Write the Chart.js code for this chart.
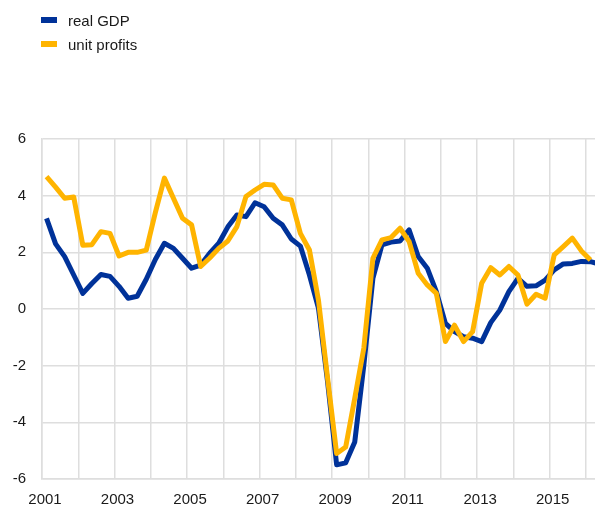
<!DOCTYPE html>
<html>
<head>
<meta charset="utf-8">
<script src="https://cdn.jsdelivr.net/npm/chart.js@4/dist/chart.umd.min.js"></script>
<style>
  html, body { margin: 0; padding: 0; background: #fff; }
  #wrap { position: relative; width: 595px; height: 506px; }
  #legend { position: absolute; left: 41px; top: 8px; font: 15px "Liberation Sans", Arial, sans-serif; color: #1a1a1a; }
  #legend div { display: flex; align-items: center; height: 24px; }
  #legend span.box { display: inline-block; width: 16px; height: 6px; margin-right: 11px; }
</style>
</head>
<body>
<div id="wrap">
  <canvas id="myChart" width="595" height="506"></canvas>
  <div id="legend"></div>
</div>
<script>
// quarterly observations, 2001Q1 onwards
const quarters = [
    '2001Q1','2001Q2','2001Q3','2001Q4','2002Q1','2002Q2','2002Q3','2002Q4',
    '2003Q1','2003Q2','2003Q3','2003Q4','2004Q1','2004Q2','2004Q3','2004Q4',
    '2005Q1','2005Q2','2005Q3','2005Q4','2006Q1','2006Q2','2006Q3','2006Q4',
    '2007Q1','2007Q2','2007Q3','2007Q4','2008Q1','2008Q2','2008Q3','2008Q4',
    '2009Q1','2009Q2','2009Q3','2009Q4','2010Q1','2010Q2','2010Q3','2010Q4',
    '2011Q1','2011Q2','2011Q3','2011Q4','2012Q1','2012Q2','2012Q3','2012Q4',
    '2013Q1','2013Q2','2013Q3','2013Q4','2014Q1','2014Q2','2014Q3','2014Q4',
    '2015Q1','2015Q2','2015Q3','2015Q4','2016Q1','2016Q2'
];

const realGdp = [
    3.2, 2.3, 1.85, 1.2, 0.55, 0.9, 1.22, 1.15,
    0.8, 0.38, 0.45, 1.05, 1.75, 2.32, 2.14, 1.79,
    1.44, 1.55, 1.97, 2.32, 2.9, 3.32, 3.26, 3.75,
    3.61, 3.2, 2.97, 2.47, 2.22, 1.2, 0.02, -2.57,
    -5.5, -5.43, -4.69, -1.98, 1.08, 2.26, 2.36, 2.4,
    2.79, 1.85, 1.44, 0.61, -0.51, -0.8, -0.98, -1.03,
    -1.15, -0.48, -0.04, 0.61, 1.08, 0.8, 0.82, 1.02,
    1.38, 1.59, 1.61, 1.68, 1.67, 1.58
];

const unitProfits = [
    4.67, 4.3, 3.91, 3.95, 2.25, 2.27, 2.73, 2.67,
    1.87, 2.0, 2.0, 2.08, 3.4, 4.62, 3.91, 3.2,
    2.97, 1.5, 1.8, 2.14, 2.4, 2.91, 3.97, 4.2,
    4.4, 4.38, 3.91, 3.85, 2.67, 2.08, 0.3, -2.44,
    -5.1, -4.87, -3.15, -1.38, 1.79, 2.44, 2.52, 2.85,
    2.38, 1.26, 0.85, 0.55, -1.15, -0.57, -1.15, -0.8,
    0.91, 1.46, 1.2, 1.5, 1.2, 0.17, 0.52, 0.38,
    1.91, 2.2, 2.5, 2.05, 1.73
];

const seriesNames = ['real GDP', 'unit profits'];
const seriesColors = ['#003299', '#ffb400'];
const yTicks = [-6, -4, -2, 0, 2, 4, 6];

// place each quarter in the middle of its quarter on a yearly axis
const toX = (q) => parseInt(q.slice(0, 4)) + (parseInt(q.slice(5)) - 0.5) / 4;
const toPoints = (arr) => arr.map((v, i) => ({ x: toX(quarters[i]), y: v }));

const font = { family: '"Liberation Sans", Arial, sans-serif', size: 15 };
const gridColor = '#dedede';

const ctx = document.getElementById('myChart').getContext('2d');
const myChart = new Chart(ctx, {
    type: 'line',
    data: {
        datasets: [
            {
                label: seriesNames[0],
                data: toPoints(realGdp),
                borderColor: seriesColors[0],
                backgroundColor: seriesColors[0],
                order: 1
            },
            {
                label: seriesNames[1],
                data: toPoints(unitProfits),
                borderColor: seriesColors[1],
                backgroundColor: seriesColors[1],
                order: 0
            }
        ]
    },
    options: {
        responsive: false,
        animation: false,
        layout: { padding: { top: 139, left: 0, right: 0, bottom: 0 } },
        elements: {
            line: { borderWidth: 5, tension: 0, borderJoinStyle: 'round' },
            point: { radius: 0 }
        },
        plugins: {
            legend: { display: false },
            tooltip: { enabled: false }
        },
        scales: {
            x: {
                type: 'linear',
                min: 2001,
                max: 2016.25,
                afterFit: (scale) => {
                    scale.height = 27;
                    scale.paddingLeft = 0;
                    scale.paddingRight = 0;
                },
                grid: { color: gridColor, lineWidth: 1.5, drawTicks: false },
                border: { color: gridColor, width: 1.5 },
                ticks: {
                    stepSize: 1,
                    includeBounds: false,
                    autoSkip: false,
                    maxRotation: 0,
                    padding: 12,
                    labelOffset: 3,
                    color: '#1a1a1a',
                    font: font,
                    callback: (v) => (v % 2 === 1 ? String(v) : '')
                }
            },
            y: {
                min: yTicks[0],
                max: yTicks[yTicks.length - 1],
                afterFit: (scale) => {
                    scale.width = 42;
                    scale.paddingTop = 0;
                    scale.paddingBottom = 0;
                },
                grid: { color: gridColor, lineWidth: 1.5, drawTicks: false },
                border: { color: gridColor, width: 1.5 },
                afterBuildTicks: (scale) => { scale.ticks = yTicks.map((v) => ({ value: v })); },
                ticks: {
                    padding: 16,
                    color: '#1a1a1a',
                    font: font
                }
            }
        }
    }
});

// legend above the plot, one series per row
const legendEl = document.getElementById('legend');
myChart.data.datasets.forEach((ds) => {
    const row = document.createElement('div');
    const box = document.createElement('span');
    box.className = 'box';
    box.style.background = ds.borderColor;
    row.appendChild(box);
    row.appendChild(document.createTextNode(ds.label));
    legendEl.appendChild(row);
});
</script>
</body>
</html>
